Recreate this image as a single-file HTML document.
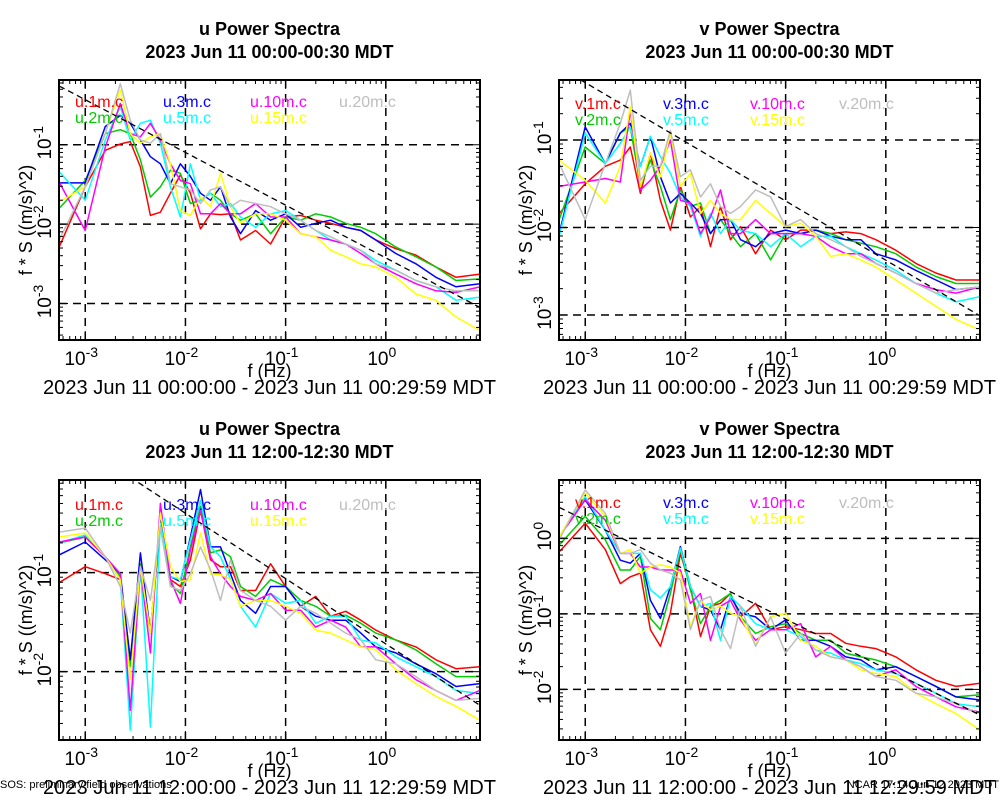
<!DOCTYPE html>
<html><head><meta charset="utf-8"><style>
html,body{margin:0;padding:0;background:#fff;}
svg{display:block;font-family:"Liberation Sans",Arial,sans-serif;}
</style></head><body>
<svg id="chart" width="1000" height="800" viewBox="0 0 1000 800"></svg>
<script>
// shared log10 frequency grid (Hz)
const logFreq = [-3.26,-3.0,-2.8,-2.65,-2.55,-2.45,-2.35,-2.25,-2.15,-2.05,-1.95,-1.85,-1.75,-1.65,-1.55,-1.45,-1.3,-1.15,-1.0,-0.85,-0.7,-0.55,-0.4,-0.25,-0.1,0.1,0.3,0.5,0.7,0.94];
const xTicks = [-3,-2,-1,0];
const seriesColors = ["#ff0000","#00cc00","#0000ff","#00ffff","#ff00ff","#ffff00","#bebebe"];
const heights = ["1m","2m","3m","5m","10m","15m","20m"];

// panel 1: u 00:00 (log10 f*S)
const tlRed =   [-2.29,-1.53,-1.07,-0.99,-0.96,-1.28,-1.89,-1.85,-1.61,-1.38,-1.61,-2.06,-1.87,-1.88,-1.87,-2.20,-2.08,-2.25,-1.91,-1.89,-1.95,-1.99,-2.04,-2.08,-2.20,-2.31,-2.39,-2.54,-2.67,-2.63];
const tlGreen = [-1.80,-1.45,-0.86,-0.81,-0.86,-1.19,-1.66,-1.53,-1.32,-1.36,-1.74,-1.70,-1.61,-1.70,-1.87,-1.95,-1.87,-2.12,-1.91,-1.95,-1.87,-1.91,-1.99,-2.04,-2.12,-2.29,-2.41,-2.54,-2.71,-2.69];
const tlBlue =  [-1.48,-1.48,-0.77,-0.63,-0.73,-0.94,-1.15,-1.24,-1.49,-1.24,-1.40,-1.61,-1.70,-1.53,-1.91,-2.12,-1.83,-1.95,-1.87,-2.04,-1.99,-1.95,-2.04,-2.08,-2.20,-2.37,-2.50,-2.67,-2.79,-2.75];
const tlCyan =  [-1.34,-1.70,-0.94,-0.52,-0.94,-0.73,-0.69,-0.98,-1.53,-1.91,-1.24,-1.70,-1.61,-1.78,-1.74,-1.91,-2.04,-1.87,-1.83,-1.95,-2.08,-2.20,-2.25,-2.33,-2.46,-2.58,-2.71,-2.79,-2.96,-2.92];
const tlMag =   [-1.47,-2.08,-1.03,-0.48,-0.86,-0.90,-0.73,-0.94,-1.24,-1.45,-1.49,-1.87,-1.87,-1.74,-1.87,-1.87,-1.74,-1.91,-1.91,-2.12,-2.16,-2.20,-2.25,-2.37,-2.50,-2.63,-2.75,-2.84,-2.86,-2.79];
const tlYel =   [-1.72,-1.53,-0.86,-0.31,-0.86,-0.98,-0.90,-0.86,-1.24,-1.83,-1.89,-1.66,-1.78,-1.36,-1.78,-1.99,-1.87,-1.87,-1.95,-2.12,-2.16,-2.33,-2.41,-2.50,-2.54,-2.67,-2.88,-2.96,-3.17,-3.34];
const tlGray =  [-2.20,-1.53,-0.86,-0.23,-0.69,-0.94,-0.98,-0.86,-1.49,-1.53,-1.57,-1.74,-1.57,-1.53,-1.78,-1.70,-1.74,-1.78,-1.87,-1.95,-2.08,-2.16,-2.25,-2.33,-2.50,-2.58,-2.71,-2.79,-2.84,-2.84];
// panel 2: v 00:00
const trRed =   [-1.84,-1.50,-1.30,-1.23,-1.08,-1.61,-1.15,-1.69,-2.03,-1.53,-1.88,-1.76,-2.22,-1.76,-2.14,-1.99,-2.30,-2.03,-2.14,-2.03,-2.03,-2.07,-2.05,-2.07,-2.14,-2.26,-2.41,-2.52,-2.60,-2.60];
const trGreen = [-1.91,-1.08,-1.27,-0.92,-0.85,-1.53,-1.23,-1.53,-1.91,-1.57,-1.76,-1.72,-2.07,-1.91,-2.07,-2.22,-2.07,-2.37,-2.07,-2.07,-2.03,-2.07,-2.14,-2.18,-2.22,-2.30,-2.45,-2.56,-2.64,-2.64];
const trBlue =  [-2.07,-0.85,-1.27,-0.92,-0.81,-1.30,-0.96,-1.42,-1.72,-1.61,-1.72,-1.84,-2.07,-1.91,-1.91,-2.14,-2.22,-2.07,-2.03,-2.07,-2.03,-2.10,-2.14,-2.14,-2.30,-2.37,-2.49,-2.60,-2.71,-2.68];
const trCyan =  [-2.10,-0.92,-1.27,-1.04,-0.85,-1.30,-0.96,-1.19,-1.38,-1.65,-1.76,-2.10,-1.84,-2.07,-1.91,-2.03,-2.07,-2.22,-2.07,-2.22,-2.10,-2.10,-2.22,-2.30,-2.37,-2.49,-2.64,-2.75,-2.85,-2.79];
const trMag =   [-1.53,-1.48,-1.44,-1.48,-0.66,-1.57,-1.46,-1.30,-1.00,-1.69,-1.72,-2.07,-1.88,-1.57,-2.07,-2.07,-1.91,-2.07,-2.07,-2.07,-2.10,-2.22,-2.30,-2.30,-2.41,-2.52,-2.64,-2.71,-2.75,-2.68];
const trYel =   [-1.23,-1.46,-1.72,-1.30,-0.62,-1.53,-1.15,-1.42,-0.92,-1.53,-1.38,-1.84,-1.69,-1.84,-1.91,-1.91,-1.69,-1.84,-1.99,-1.95,-2.10,-2.33,-2.30,-2.37,-2.45,-2.60,-2.75,-2.90,-3.05,-3.17];
const trGray =  [-1.27,-1.91,-1.27,-0.81,-0.43,-1.46,-1.30,-1.30,-0.89,-1.42,-1.34,-1.65,-1.50,-1.76,-1.84,-1.76,-1.57,-1.65,-1.99,-1.91,-2.07,-2.14,-2.22,-2.33,-2.41,-2.52,-2.64,-2.75,-2.71,-2.68];
// panel 3: u 12:00
const blRed =   [-1.10,-0.94,-1.01,-1.07,-1.88,-1.01,-1.61,-0.47,-1.07,-1.14,-0.87,-0.37,-0.87,-0.94,-0.94,-1.18,-1.18,-0.91,-1.14,-1.34,-1.24,-1.44,-1.39,-1.48,-1.58,-1.68,-1.75,-1.88,-1.97,-1.95];
const blGreen = [-0.70,-0.64,-0.84,-1.04,-1.95,-0.91,-1.58,-0.54,-1.11,-1.21,-0.74,-0.33,-0.80,-0.77,-0.84,-1.14,-1.24,-1.07,-1.14,-1.28,-1.34,-1.44,-1.43,-1.51,-1.61,-1.68,-1.78,-1.92,-2.05,-2.05];
const blBlue =  [-0.82,-0.69,-0.87,-1.01,-1.88,-0.80,-1.61,-0.47,-1.04,-1.09,-0.64,-0.16,-0.74,-0.74,-1.01,-1.28,-1.41,-1.14,-1.14,-1.34,-1.44,-1.48,-1.48,-1.61,-1.75,-1.81,-1.92,-2.02,-2.15,-2.12];
const blCyan =  [-0.70,-0.62,-0.84,-1.07,-2.59,-0.94,-2.56,-0.50,-1.04,-1.07,-0.67,-0.27,-0.74,-0.84,-1.07,-1.34,-1.55,-1.21,-1.31,-1.28,-1.51,-1.44,-1.44,-1.68,-1.71,-1.85,-1.95,-2.05,-2.19,-2.22];
const blMag =   [-0.69,-0.64,-0.84,-1.01,-2.39,-0.94,-1.81,-0.30,-1.07,-1.31,-0.77,-0.37,-0.84,-1.01,-1.14,-1.24,-1.28,-1.21,-1.38,-1.38,-1.55,-1.48,-1.55,-1.75,-1.75,-1.92,-2.08,-2.19,-2.29,-2.19];
const blYel =   [-0.64,-0.60,-0.84,-1.07,-2.08,-0.94,-1.61,-0.40,-0.94,-1.09,-1.07,-0.60,-1.01,-1.02,-1.07,-1.34,-1.28,-1.28,-1.34,-1.41,-1.58,-1.61,-1.68,-1.75,-1.78,-1.98,-2.12,-2.25,-2.35,-2.49];
const blGray =  [-0.59,-0.55,-0.84,-1.14,-1.61,-0.94,-1.28,-0.54,-1.14,-1.18,-1.01,-0.74,-0.97,-1.28,-0.87,-1.18,-1.28,-1.34,-1.48,-1.34,-1.41,-1.51,-1.61,-1.68,-1.88,-1.92,-2.05,-2.19,-2.29,-2.27];
// panel 4: v 12:00
const brRed =   [-0.18,0.20,-0.15,-0.60,-0.51,-0.46,-1.21,-1.43,-0.99,-0.20,-0.64,-1.30,-0.90,-0.86,-0.73,-1.04,-0.86,-1.21,-1.17,-1.21,-1.26,-1.26,-1.39,-1.43,-1.46,-1.57,-1.74,-1.88,-1.96,-1.92];
const brGreen = [-0.09,0.29,-0.02,-0.42,-0.42,-0.24,-1.06,-1.21,-0.73,-0.15,-0.68,-1.13,-0.90,-0.82,-0.73,-1.04,-1.26,-1.17,-1.13,-1.26,-1.35,-1.35,-1.52,-1.57,-1.61,-1.70,-1.83,-1.96,-2.10,-2.07];
const brBlue =  [0.02,0.51,0.11,-0.29,-0.33,-0.20,-0.82,-1.06,-0.64,-0.11,-0.64,-0.90,-0.95,-1.21,-0.77,-0.99,-1.04,-1.21,-1.08,-1.35,-1.35,-1.43,-1.57,-1.61,-1.74,-1.70,-1.83,-1.96,-2.10,-2.14];
const brCyan =  [0.02,0.55,0.11,-0.20,-0.20,-0.20,-0.68,-0.79,-0.64,-0.13,-0.64,-0.90,-0.86,-1.35,-0.77,-0.90,-1.13,-1.21,-1.21,-1.30,-1.48,-1.52,-1.61,-1.66,-1.74,-1.79,-1.92,-2.05,-2.19,-2.23];
const brMag =   [0.02,0.51,0.24,-0.20,-0.20,-0.38,-0.38,-0.42,-0.42,-0.42,-0.86,-0.73,-1.35,-0.90,-0.82,-1.08,-1.35,-1.21,-1.21,-1.13,-1.57,-1.43,-1.61,-1.70,-1.83,-1.74,-1.96,-2.10,-2.23,-2.30];
const brYel =   [0.02,0.60,0.29,-0.20,-0.15,-0.46,-0.38,-0.35,-0.38,-0.46,-1.17,-0.82,-0.95,-0.90,-0.99,-1.04,-1.41,-1.04,-0.99,-1.35,-1.43,-1.57,-1.61,-1.74,-1.79,-1.83,-2.05,-2.19,-2.32,-2.54];
const brGray =  [-0.02,0.64,0.33,-0.20,-0.20,-0.15,-0.33,-0.42,-0.46,-0.55,-1.21,-0.82,-0.77,-1.21,-1.46,-0.90,-1.43,-1.04,-1.52,-1.26,-1.48,-1.57,-1.61,-1.70,-1.83,-1.88,-2.05,-2.10,-2.19,-2.32];
// reference -2/3 slope lines [logf0, logS0, logf1, logS1]
const tlSlope = [-3.26,-0.26,0.94,-3.05];
const trSlope = [-3.05,-0.31,0.94,-3.01];
const blSlope = [-2.47,-0.09,0.94,-2.34];
const brSlope = [-3.26,0.41,0.94,-2.34];

const NS="http://www.w3.org/2000/svg";
const svg=document.getElementById('chart');
function mk(tag,attrs,parent){const e=document.createElementNS(NS,tag);for(const k in attrs)e.setAttribute(k,attrs[k]);(parent||svg).appendChild(e);return e;}

const panels=[
 {id:'u-early',comp:'u',title2:'2023 Jun 11 00:00-00:30 MDT',sub:'2023 Jun 11 00:00:00 - 2023 Jun 11 00:29:59 MDT',x0:59,y0:80,yTop:-0.184,yBot:-3.46,yT:[-1,-2,-3],series:[tlRed,tlGreen,tlBlue,tlCyan,tlMag,tlYel,tlGray],slope:tlSlope,legY:107},
 {id:'v-early',comp:'v',title2:'2023 Jun 11 00:00-00:30 MDT',sub:'2023 Jun 11 00:00:00 - 2023 Jun 11 00:29:59 MDT',x0:559,y0:80,yTop:-0.314,yBot:-3.286,yT:[-1,-2,-3],series:[trRed,trGreen,trBlue,trCyan,trMag,trYel,trGray],slope:trSlope,legY:109},
 {id:'u-noon',comp:'u',title2:'2023 Jun 11 12:00-12:30 MDT',sub:'2023 Jun 11 12:00:00 - 2023 Jun 11 12:29:59 MDT',x0:59,y0:480,yTop:-0.064,yBot:-2.69,yT:[-1,-2],series:[blRed,blGreen,blBlue,blCyan,blMag,blYel,blGray],slope:blSlope,legY:510},
 {id:'v-noon',comp:'v',title2:'2023 Jun 11 12:00-12:30 MDT',sub:'2023 Jun 11 12:00:00 - 2023 Jun 11 12:29:59 MDT',x0:559,y0:480,yTop:0.772,yBot:-2.67,yT:[0,-1,-2],series:[brRed,brGreen,brBlue,brCyan,brMag,brYel,brGray],slope:brSlope,legY:508}
];
const W=421,H=260,LX0=-3.262,LX1=0.94;

panels.forEach(p=>{
 const g=mk('g',{});
 
 
 const X=lf=>p.x0+(lf-LX0)/(LX1-LX0)*W;
 const Y=ly=>p.y0+(p.yTop-ly)/(p.yTop-p.yBot)*H;
 const cx=p.x0+W/2;
 let t=mk('text',{x:cx,y:p.y0-45,'text-anchor':'middle','font-size':18,'font-weight':'bold'},g);t.textContent=p.comp+' Power Spectra';
 
 t=mk('text',{x:cx,y:p.y0-22,'text-anchor':'middle','font-size':18,'font-weight':'bold'},g);t.textContent=p.title2;
 
 const cp=mk('clipPath',{id:'cp-'+p.id},g);mk('rect',{x:p.x0,y:p.y0,width:W,height:H},cp);
 xTicks.forEach(v=>{const l=mk('line',{x1:X(v),x2:X(v),y1:p.y0,y2:p.y0+H,stroke:'#000','stroke-width':1.5,'stroke-dasharray':'8,6'},g);
  });
 p.yT.forEach(v=>{const l=mk('line',{x1:p.x0,x2:p.x0+W,y1:Y(v),y2:Y(v),stroke:'#000','stroke-width':1.5,'stroke-dasharray':'8,6'},g);
  });
 const sg=mk('g',{'clip-path':'url(#cp-'+p.id+')'},g);
 p.series.forEach((arr,i)=>{
  const d=arr.map((v,j)=>(j?'L':'M')+X(logFreq[j]).toFixed(1)+','+Y(v).toFixed(1)).join('');
  const pa=mk('path',{d:d,fill:'none',stroke:seriesColors[i],'stroke-width':1.5,'stroke-linejoin':'round'},sg);
  
  
 });
 const s=p.slope;
 const sl=mk('line',{x1:X(s[0]),y1:Y(s[1]),x2:X(s[2]),y2:Y(s[3]),stroke:'#000','stroke-width':1.3,'stroke-dasharray':'6,4'},sg);
 
 const legX=[p.x0+16,p.x0+104,p.x0+191,p.x0+280];
 heights.forEach((h,i)=>{
  const col=i<2?0:(i<4?1:(i<6?2:3)), row=(i===6)?0:i%2;
  const lt=mk('text',{x:legX[col],y:p.legY+row*16,'font-size':16,fill:seriesColors[i]},g);
  lt.textContent=p.comp+'.'+h+'.c';
  
 });
 const fr=mk('rect',{x:p.x0,y:p.y0,width:W,height:H,fill:'none',stroke:'#000','stroke-width':2},g);
 
 for(let d=-4;d<=0;d++){for(let m=1;m<10;m++){const lf=d+Math.log10(m);if(lf<LX0||lf>LX1)continue;const x=X(lf),len=m===1?9:4;
  mk('line',{x1:x,x2:x,y1:p.y0+H,y2:p.y0+H-len,stroke:'#000','stroke-width':1},g);
  mk('line',{x1:x,x2:x,y1:p.y0,y2:p.y0+len,stroke:'#000','stroke-width':1},g);}}
 for(let d=-4;d<=1;d++){for(let m=1;m<10;m++){const ly=d+Math.log10(m);if(ly>p.yTop||ly<p.yBot)continue;const y=Y(ly),len=m===1?9:4;
  mk('line',{x1:p.x0,x2:p.x0+len,y1:y,y2:y,stroke:'#000','stroke-width':1},g);
  mk('line',{x1:p.x0+W,x2:p.x0+W-len,y1:y,y2:y,stroke:'#000','stroke-width':1},g);}}
 xTicks.forEach(v=>{const tt=mk('text',{x:X(v)-4,y:p.y0+H+25,'text-anchor':'middle','font-size':19},g);
  
  tt.appendChild(document.createTextNode('10'));const sp=mk('tspan',{dy:-8,'font-size':14},tt);sp.textContent=String(v);});
 p.yT.forEach(v=>{const y=Y(v)-2;const tt=mk('text',{x:0,y:0,'text-anchor':'middle','font-size':19,transform:'translate('+(p.x0-8)+','+y+') rotate(-90)'},g);
  
  tt.appendChild(document.createTextNode('10'));const sp=mk('tspan',{dy:-8,'font-size':14},tt);sp.textContent=String(v);});
 t=mk('text',{x:0,y:0,'text-anchor':'middle','font-size':18,transform:'translate('+(p.x0-27)+','+(p.y0+140)+') rotate(-90)'},g);t.textContent='f * S ((m/s)^2)';
 
 t=mk('text',{x:cx,y:p.y0+H+37,'text-anchor':'middle','font-size':18},g);t.textContent='f (Hz)';
 
 t=mk('text',{x:cx,y:p.y0+H+54,'text-anchor':'middle','font-size':20,textLength:453,lengthAdjust:'spacingAndGlyphs'},g);t.textContent=p.sub;
 
});
let ft=mk('text',{x:0,y:788,'font-size':11});ft.textContent='SOS: preliminary field observations';

ft=mk('text',{x:999,y:788,'font-size':11,'text-anchor':'end'});ft.textContent='NCAR 17:14 Jun 12 2023 MDT';

</script>
</body></html>
